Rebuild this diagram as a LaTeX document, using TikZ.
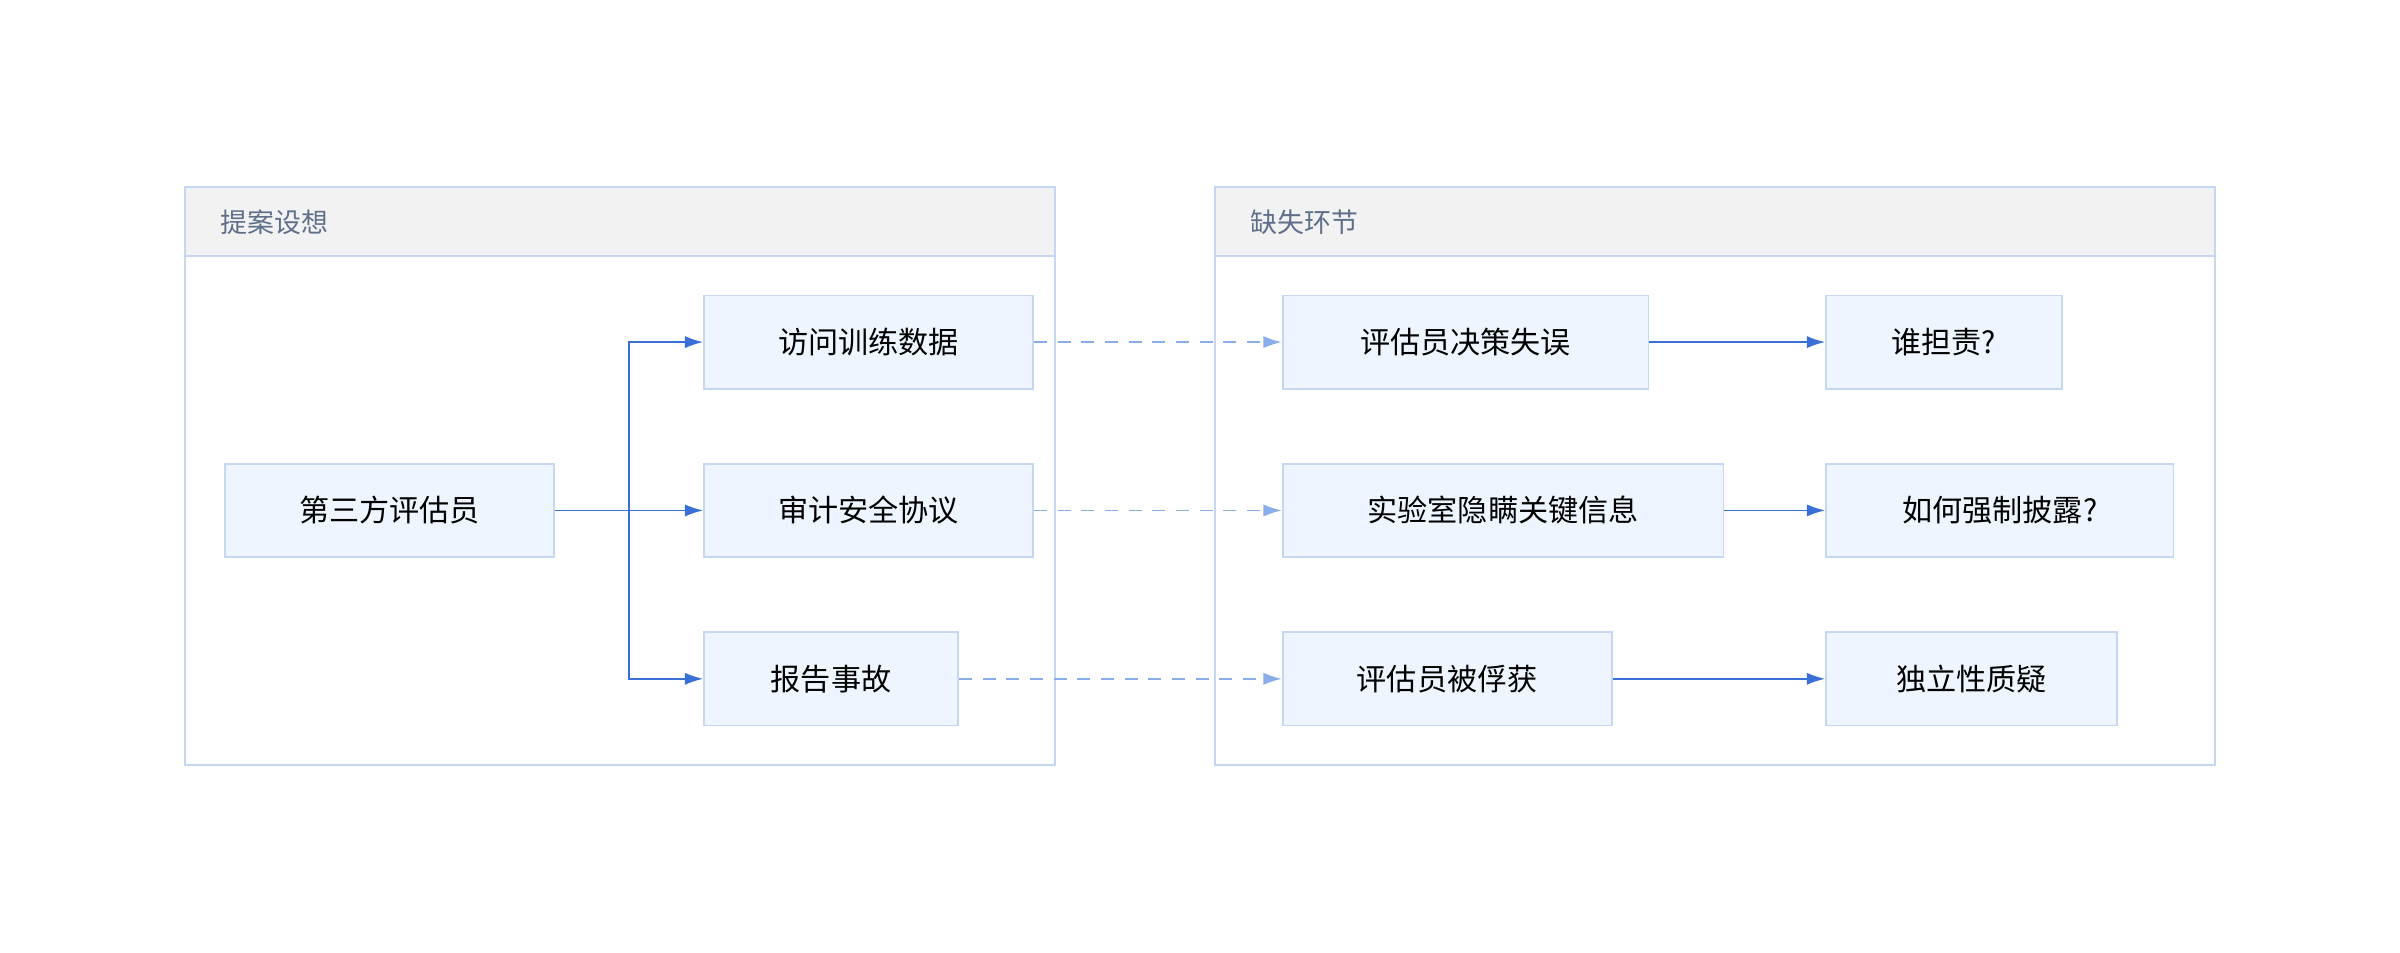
\documentclass[tikz,border=0pt]{standalone}
\usepackage{fontspec}
\setmainfont{Noto Sans CJK SC}
\usetikzlibrary{arrows.meta, positioning}
\definecolor{boxfill}{HTML}{EFF5FE}
\definecolor{boxline}{HTML}{C5D7F2}
\definecolor{headfill}{HTML}{F2F2F2}
\definecolor{headtext}{HTML}{5F6F8A}
\definecolor{arrowblue}{HTML}{3A6FD8}
\definecolor{dashblue}{HTML}{8AAEEA}
\tikzstyle{line} = [draw=arrowblue, -{Latex[length=3mm,width=2mm]}, line width=0.8pt]

\begin{document}
\begin{tikzpicture}[x=0.025cm, y=-0.025cm]
  \tikzset{
    step box/.style={
      rectangle, draw=boxline, fill=boxfill, line width=0.8pt,
      minimum height=61*0.025cm, minimum width=#1*0.025cm,
      inner sep=0pt, font=\fontsize{14}{16}\selectfont
    },
    step box/.default=215,
    cluster/.style={draw=boxline, line width=1pt},
    dashed line/.style={draw=dashblue, dash pattern=on 6pt off 5pt, line width=0.8pt, -{Latex[length=3mm,width=2mm]}}
  }
  \useasboundingbox (0,0) rectangle (1568,622);

  % clusters
  \filldraw[cluster, fill=headfill] (121,122) rectangle (689,167);
  \draw[cluster] (121,122) rectangle (689,500);
  \node[anchor=west, text=headtext, font=\fontsize{12.5}{14}\selectfont] (leftT) at (139,145) {提案设想};
  \filldraw[cluster, fill=headfill] (794,122) rectangle (1447,167);
  \draw[cluster] (794,122) rectangle (1447,500);
  \node[anchor=west, text=headtext, font=\fontsize{12.5}{14}\selectfont] (rightT) at (812,145) {缺失环节};

  % nodes
  \node[step box] (eval) at (254.5,333.5) {第三方评估员};
  \node[step box] (data) at (567.5,223.5) {访问训练数据};
  \node[step box] (audit) at (567.5,333.5) {审计安全协议};
  \node[step box=166] (report) at (543,443.5) {报告事故};
  \node[step box=239] (fail) at (957.5,223.5) {评估员决策失误};
  \node[step box=288] (hide) at (982,333.5) {实验室隐瞒关键信息};
  \node[step box=215] (capt) at (945.5,443.5) {评估员被俘获};
  \node[step box=154] (who) at (1270,223.5) {谁担责?};
  \node[step box=227] (force) at (1306.5,333.5) {如何强制披露?};
  \node[step box=190] (indep) at (1288,443.5) {独立性质疑};

  % connectors
  \coordinate (split) at (411,333.5);
  \draw[line] (eval.east) -- (audit.west);
  \draw[line] (split) |- (data.west);
  \draw[line] (split) |- (report.west);
  \draw[dashed line] (data) -- (fail);
  \draw[dashed line] (audit) -- (hide);
  \draw[dashed line] (report) -- (capt);
  \draw[line] (fail) -- (who);
  \draw[line] (hide) -- (force);
  \draw[line] (capt) -- (indep);
\end{tikzpicture}
\end{document}
